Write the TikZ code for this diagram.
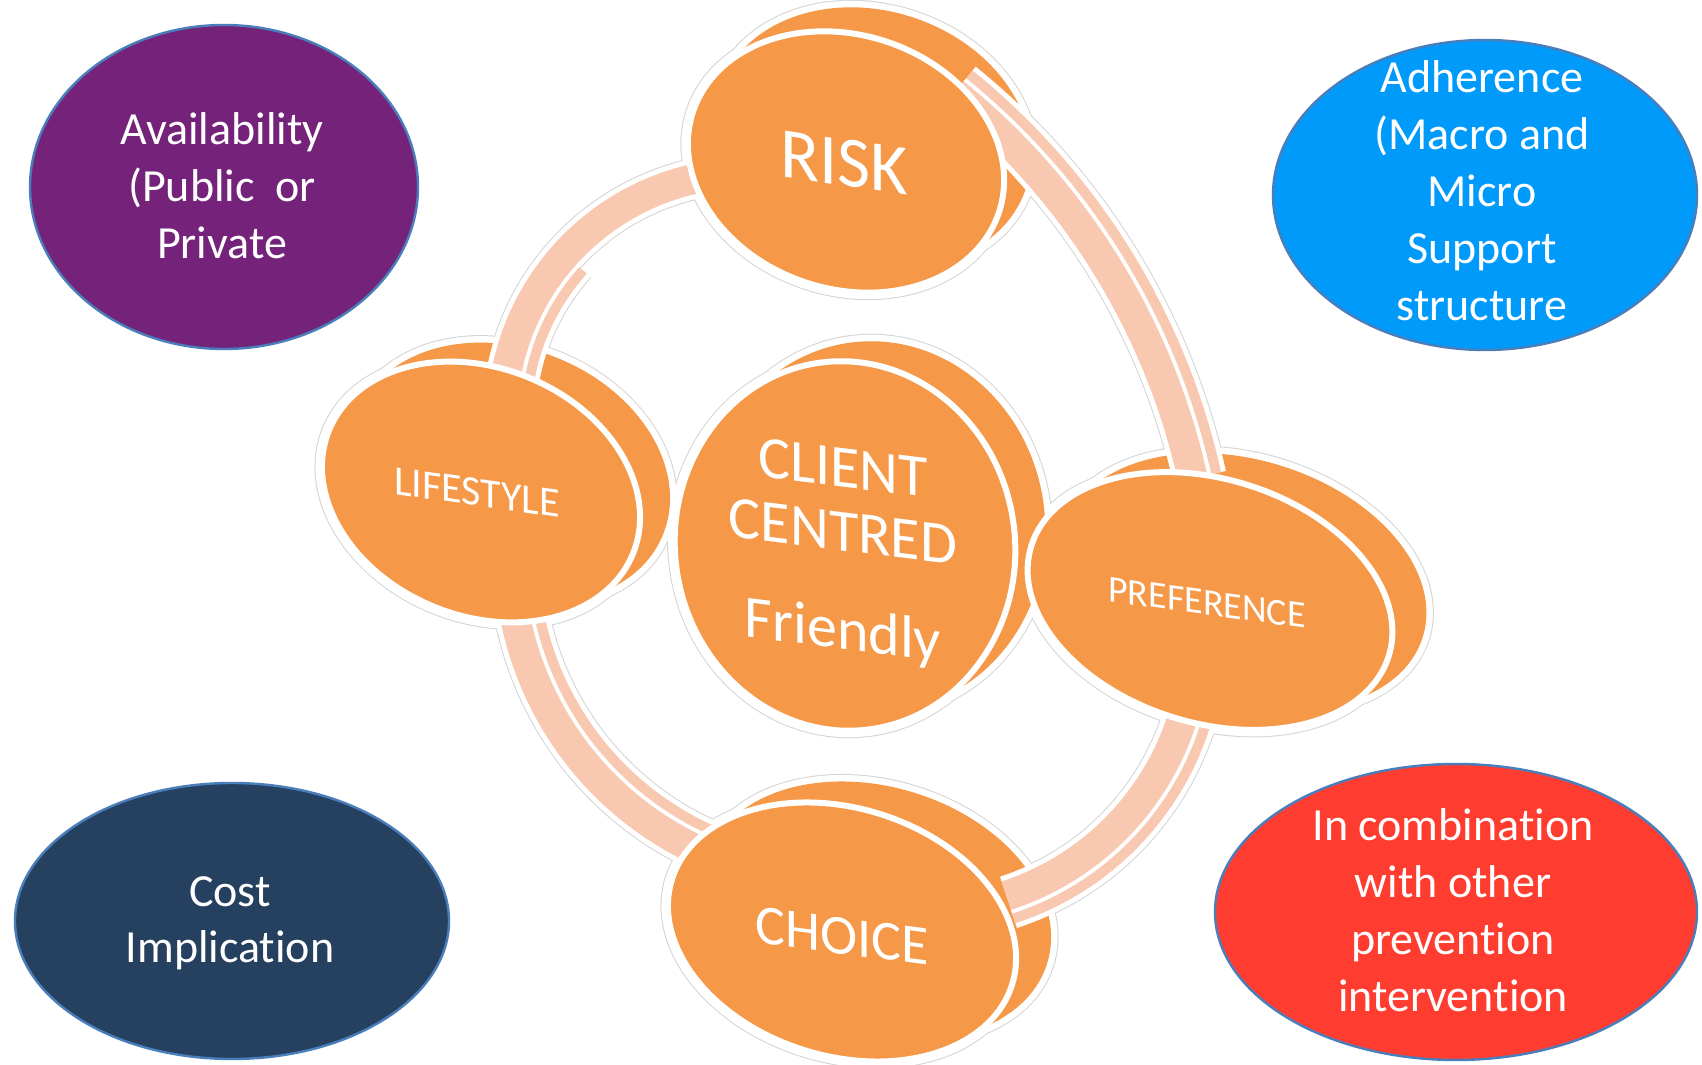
\documentclass[tikz,border=0pt]{standalone}
\usepackage{fontspec}
\setmainfont{Carlito}[Ligatures=NoCommon]
\definecolor{dorange}{RGB}{245,152,72}
\definecolor{bandc}{RGB}{248,200,176}
\definecolor{haloc}{RGB}{212,212,212}
\definecolor{opurple}{RGB}{116,34,122}
\definecolor{oblue}{RGB}{0,155,250}
\definecolor{onavy}{RGB}{38,64,96}
\definecolor{ored}{RGB}{255,60,48}
\definecolor{oedge}{RGB}{74,126,187}
% #1 style, #2 cx, #3 cy, #4 rx, #5 ry, #6 rotation
\newcommand\diskell[6]{\path[#1, rotate around={#6:(#2,#3)}] (#2,#3) ellipse [x radius=#4, y radius=#5];}
% #1 style, #2 cx, #3 cy, #4 r, #5 a1, #6 a2
\newcommand\bandarc[6]{\path[#1] (#2,#3) ++(#5:#4) arc [start angle=#5, end angle=#6, radius=#4];}
\begin{document}
\begin{tikzpicture}[x=0.5pt,y=0.5pt,
  otext/.style={text=white, inner sep=0pt, anchor=base, font=\fontsize{23}{28}\selectfont},
  dtext/.style={text=white, inner sep=0pt, anchor=base},
  outerell/.style={draw=oedge, line width=1.2pt},
  halog/.style={draw=haloc, line width=7.5pt},
  halow/.style={draw=white, line width=6.5pt},
  backfill/.style={fill=dorange},
  frontdisk/.style={draw=white, line width=3pt, fill=dorange},
  bgm/.style={draw=haloc, line width=21pt},
  bgs/.style={draw=haloc, line width=11pt},
  bwm/.style={draw=white, line width=20pt},
  bws/.style={draw=white, line width=10pt},
  bsm/.style={draw=bandc, line width=15pt},
  bss/.style={draw=bandc, line width=5pt},
]
\useasboundingbox (0,0) rectangle (1702,1065);
\fill[white] (0,0) rectangle (1702,1065);

% outer ellipses
\path[outerell, fill=opurple] (224,878) ellipse [x radius=194, y radius=162];
\path[outerell, fill=oblue] (1485,870) ellipse [x radius=212, y radius=155];
\path[outerell, fill=onavy] (232,144) ellipse [x radius=217, y radius=138];
\path[outerell, fill=ored] (1456,153) ellipse [x radius=241, y radius=148];

% disk gray halos
\foreach \s in {halog}{
\diskell{\s}{873}{927}{161}{127}{-18}
\diskell{\s}{846}{903}{161}{127}{-18}
\diskell{\s}{511}{592}{164}{124}{-22}
\diskell{\s}{481}{573}{164}{124}{-22}
\diskell{\s}{875}{539}{170}{185}{8}
\diskell{\s}{845}{519}{170}{185}{8}
\diskell{\s}{1244}{483}{187}{122}{-17}
\diskell{\s}{1210}{464}{187}{122}{-17}
\diskell{\s}{877}{154}{178}{124}{-17}
\diskell{\s}{842}{133}{178}{124}{-17}
}
% band gray halos
\bandarc{bgm}{748}{646}{246}{90}{172}
\bandarc{bgs}{748}{646}{222}{138}{172}
\bandarc{bgm}{522}{438}{687}{51}{12.5}
\bandarc{bgs}{522}{438}{711}{51}{12.5}
\bandarc{bgm}{836}{511}{327}{186}{253}
\bandarc{bgs}{836}{511}{303}{186}{253}
\bandarc{bgm}{922}{429}{273}{-8}{-72}
\bandarc{bgs}{922}{429}{297}{-8}{-72}

% disk white halos
\foreach \s in {halow}{
\diskell{\s}{873}{927}{161}{127}{-18}
\diskell{\s}{846}{903}{161}{127}{-18}
\diskell{\s}{511}{592}{164}{124}{-22}
\diskell{\s}{481}{573}{164}{124}{-22}
\diskell{\s}{875}{539}{170}{185}{8}
\diskell{\s}{845}{519}{170}{185}{8}
\diskell{\s}{1244}{483}{187}{122}{-17}
\diskell{\s}{1210}{464}{187}{122}{-17}
\diskell{\s}{877}{154}{178}{124}{-17}
\diskell{\s}{842}{133}{178}{124}{-17}
}
% back disks
\diskell{backfill}{873}{927}{161}{127}{-18}
\diskell{backfill}{511}{592}{164}{124}{-22}
\diskell{backfill}{875}{539}{170}{185}{8}
\diskell{backfill}{1244}{483}{187}{122}{-17}
\diskell{backfill}{877}{154}{178}{124}{-17}

% bands white halos
\bandarc{bwm}{748}{646}{246}{90}{172}
\bandarc{bws}{748}{646}{222}{138}{172}
\bandarc{bwm}{522}{438}{687}{51}{12.5}
\bandarc{bws}{522}{438}{711}{51}{12.5}
\bandarc{bwm}{836}{511}{327}{186}{253}
\bandarc{bws}{836}{511}{303}{186}{253}
\bandarc{bwm}{922}{429}{273}{-8}{-72}
\bandarc{bws}{922}{429}{297}{-8}{-72}
% bands salmon
\bandarc{bsm}{748}{646}{246}{90}{172}
\bandarc{bss}{748}{646}{222}{138}{172}
\bandarc{bsm}{522}{438}{687}{51}{12.5}
\bandarc{bss}{522}{438}{711}{51}{12.5}
\bandarc{bsm}{836}{511}{327}{186}{253}
\bandarc{bss}{836}{511}{303}{186}{253}
\bandarc{bsm}{922}{429}{273}{-8}{-72}
\bandarc{bss}{922}{429}{297}{-8}{-72}

% front disks
\diskell{frontdisk}{846}{903}{161}{127}{-18}
\diskell{frontdisk}{481}{573}{164}{124}{-22}
\diskell{frontdisk}{845}{519}{170}{185}{8}
\diskell{frontdisk}{1210}{464}{187}{122}{-17}
\diskell{frontdisk}{842}{133}{178}{124}{-17}

% disk texts (sheared: verticals stay upright, baseline slopes)
\node[dtext, font=\fontsize{36}{36}\selectfont, yslant=-0.15] (risk) at (844,879) {RISK};
\node[dtext, font=\fontsize{21}{21}\selectfont, yslant=-0.143] (lifestyle) at (477,559) {LIFESTYLE};
\node[dtext, font=\fontsize{30}{30}\selectfont, yslant=-0.123] (client) at (843,578) {CLIENT};
\node[dtext, font=\fontsize{30}{30}\selectfont, yslant=-0.123] (centred) at (843,514) {CENTRED};
\node[dtext, font=\fontsize{30}{30}\selectfont, yslant=-0.123] (friendly) at (843,416) {Friendly};
\node[dtext, font=\fontsize{19}{19}\selectfont, yslant=-0.137] (preference) at (1207,450) {PREFERENCE};
\node[dtext, font=\fontsize{28}{28}\selectfont, yslant=-0.132] (choice) at (842,111) {CHOICE};

% outer texts
\node[otext] (av1) at (222,920) {Availability};
\node[otext] (av2) at (222,863) {(Public\ \ or};
\node[otext] (av3) at (222,806) {Private};
\node[otext] (ad1) at (1482,972) {Adherence};
\node[otext] (ad2) at (1482,915) {(Macro and};
\node[otext] (ad3) at (1482,858) {Micro};
\node[otext] (ad4) at (1482,801) {Support};
\node[otext] (ad5) at (1482,744) {structure};
\node[otext] (co1) at (230,158) {Cost};
\node[otext] (co2) at (230,102) {Implication};
\node[otext] (in1) at (1453,224) {In combination};
\node[otext] (in2) at (1453,167) {with other};
\node[otext] (in3) at (1453,110) {prevention};
\node[otext] (in4) at (1453,53) {intervention};
\end{tikzpicture}
\end{document}
